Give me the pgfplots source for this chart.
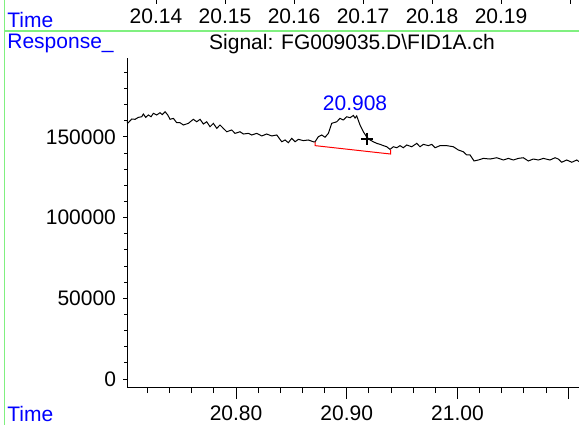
\documentclass[border=0pt]{standalone}
\usepackage{fontspec}
\setmainfont{Liberation Sans}
\usepackage{pgfplots}
\pgfplotsset{compat=1.18}
\definecolor{grn}{RGB}{128,240,128}
\definecolor{lblue}{RGB}{0,0,255}
\newcommand\f{\fontsize{10.5}{12.6}\selectfont}
\begin{document}
\begin{tikzpicture}
\useasboundingbox (0pt,0pt) rectangle (289.5pt,-212.5pt);
\clip (0pt,0pt) rectangle (289.5pt,-212.5pt);
\begin{scope}[x=0.5pt,y=-0.5pt]
\draw[grn, line width=0.6pt] (4.5,0) -- (4.5,425);
\draw[grn, line width=0.6pt] (4.5,31) -- (579,31);
\node[anchor=base west, text=lblue, font=\f, inner sep=0pt] at (7,27) {Time};
\node[anchor=base west, text=lblue, font=\f, inner sep=0pt] at (7,48) {Response\_};
\node[anchor=base, font=\f, inner sep=0pt] at (352,49) {Signal: FG009035.D\textbackslash FID1A.ch};
\node[anchor=base west, text=lblue, font=\f, inner sep=0pt] at (7,421) {Time};
\end{scope}
% top (secondary) time axis
\begin{axis}[
  at={(0pt,0pt)}, anchor=south west,
  scale only axis, width=289.5pt, height=10pt,
  xmin=20.11739, xmax=20.20130, ymin=0, ymax=1,
  hide y axis, axis x line=bottom,
  x axis line style={draw=none},
  tick align=outside, major tick length=1.75pt,
  xtick={20.14,20.15,20.16,20.17,20.18,20.19,20.20},
  xticklabels={20.14,20.15,20.16,20.17,20.18,20.19,},
  tick style={black, line width=0.5pt},
  tick label style={font=\f},
  xticklabel style={yshift=1pt},
]
\end{axis}
% x axis of the main plot
\begin{axis}[
  at={(63.5pt,-193.5pt)}, anchor=south west,
  scale only axis, width=226pt, height=164.5pt,
  xmin=20.70150, xmax=21.10980, ymin=-4960, ymax=198890,
  hide y axis, axis x line=bottom, axis line style={-, line width=0.5pt},
  tick align=outside, major tick length=6pt, minor tick length=3pt,
  xtick={20.8,20.9,21.0,21.1},
  xticklabels={20.80,20.90,21.00,},
  minor xtick={20.72,20.74,20.76,20.78,20.82,20.84,20.86,20.88,20.92,20.94,20.96,20.98,21.02,21.04,21.06,21.08},
  tick style={black, line width=0.5pt},
  tick label style={font=\f},
]
\end{axis}
% main plot with y axis
\begin{axis}[
  at={(63.5pt,-193.5pt)}, anchor=south west,
  scale only axis, width=226pt, height=164.5pt,
  xmin=20.70150, xmax=21.10980, ymin=-4960, ymax=198890,
  hide x axis, axis y line=left, axis line style={-, line width=0.5pt},
  tick align=outside, major tick length=2pt, minor tick length=1.5pt,
  scaled y ticks=false,
  ytick={0,50000,100000,150000},
  yticklabels={0,50000,100000,150000},
  minor ytick={10000,20000,30000,40000,60000,70000,80000,90000,110000,120000,130000,140000,160000,170000,180000,190000},
  tick style={black, line width=0.5pt},
  tick label style={font=\f},
  clip=false,
]
\addplot[black, line width=0.5pt] coordinates {
(20.7013,159400) (20.7027,158800) (20.7058,161100) (20.7088,160900) (20.7117,162100)
(20.7148,162500) (20.7163,164200) (20.7184,162100) (20.7208,163600) (20.7232,162500)
(20.7253,164600) (20.7284,163600) (20.7313,165000) (20.7334,163800) (20.7359,165600)
(20.7383,163600) (20.7404,160900) (20.7434,161500) (20.7464,158800) (20.7494,158800)
(20.7524,157400) (20.7569,158400) (20.7614,160900) (20.7645,159400) (20.7675,160900)
(20.7705,158000) (20.7735,159400) (20.7765,156300) (20.7795,158400) (20.7826,155300)
(20.7855,157400) (20.7885,155300) (20.7916,153200) (20.7961,154300) (20.7991,152200)
(20.8036,153200) (20.8066,151800) (20.8111,152200) (20.8142,151200) (20.8187,152200)
(20.8232,150600) (20.8277,151800) (20.8322,150600) (20.8368,151200) (20.8413,147000)
(20.8443,148100) (20.8472,146400) (20.8503,149100) (20.8533,147000) (20.8563,148500)
(20.8608,147700) (20.8653,148100) (20.8698,147000) (20.8714,147000) (20.8743,150100)
(20.8774,151200) (20.8804,149800) (20.8834,152200) (20.8864,158400) (20.8910,159400)
(20.8939,161500) (20.8969,160500) (20.9000,162500) (20.9030,161900) (20.9060,163300)
(20.9075,161700) (20.9090,163000) (20.9120,157400) (20.9150,153200) (20.9181,149900)
(20.9210,148100) (20.9240,147000) (20.9271,146000) (20.9301,145400) (20.9331,144600)
(20.9361,143900) (20.9391,142300) (20.9421,143900) (20.9452,143300) (20.9481,144600)
(20.9511,143300) (20.9542,145000) (20.9587,143900) (20.9632,146000) (20.9662,143900)
(20.9692,145400) (20.9737,144600) (20.9768,145400) (20.9798,143300) (20.9843,144600)
(20.9903,144600) (20.9963,143900) (21.0008,141900) (21.0053,140800) (21.0084,138800)
(21.0114,138800) (21.0150,135100) (21.0189,135700) (21.0234,136700) (21.0295,136300)
(21.0355,137100) (21.0415,135700) (21.0460,136700) (21.0505,135700) (21.0550,136700)
(21.0595,137100) (21.0640,135100) (21.0686,136300) (21.0731,135700) (21.0776,136700)
(21.0836,135700) (21.0882,137100) (21.0911,136300) (21.0942,134300) (21.0987,135700)
(21.1033,134300) (21.1078,135700) (21.1098,134700)
};
\addplot[red, line width=0.5pt] coordinates {
(20.8714,147000) (20.8714,144600) (20.9397,139400) (20.9397,141900)
};
\addplot[black, line width=1pt, only marks, mark=+, mark size=3pt] coordinates {(20.9181,149000)};
\node[text=lblue, font=\f, inner sep=0pt] at (axis cs:20.9075,170700) {20.908};
\end{axis}
\end{tikzpicture}
\end{document}
